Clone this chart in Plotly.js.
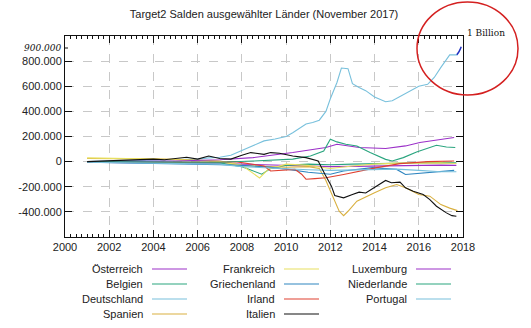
<!DOCTYPE html>
<html><head><meta charset="utf-8">
<script src="https://cdn.plot.ly/plotly-3.0.1.min.js"></script>
<style>html,body{margin:0;padding:0;background:#fff}#chart{width:531px;height:328px}</style>
</head><body><div id="chart"></div>
<script>
// ---- data (Mio. EUR) ----
const seriesNames = ['Österreich','Belgien','Deutschland','Spanien','Frankreich','Griechenland','Irland','Italien','Luxemburg','Niederlande','Portugal'];
const seriesColors = ['#9b30c8','#2aa57f','#78c0dc','#d9b040','#e8e060','#2f86c0','#e04030','#111111','#9b30c8','#2aa57f','#78c0dc'];

const oesterreichX = [2001,2003,2005,2007,2008,2009,2010,2011,2012,2013,2014,2015,2016,2017,2017.7];
const oesterreichY = [-5000,-8000,-10000,-15000,-20000,-25000,-30000,-35000,-40000,-38000,-35000,-33000,-30000,-28000,-30000];

const belgienX = [2001,2003,2005,2007,2008,2008.5,2008.9,2009.3,2010,2011,2012,2013,2014,2015,2016,2017,2017.7];
const belgienY = [-5000,-6000,-8000,-10000,-40000,-70000,-100000,-55000,-30000,-20000,-25000,-20000,-15000,-12000,-10000,-8000,-10000];

const deutschlandX = [2001,2002,2003,2004,2005,2006,2006.5,2007,2007.5,2008,2008.5,2009,2009.5,2010,2010.3,2010.6,2010.9,2011.2,2011.5,2011.8,2012,2012.3,2012.5,2012.8,2013,2013.3,2013.6,2014,2014.5,2014.8,2015.2,2015.6,2016,2016.4,2016.7,2017,2017.4,2017.75];
const deutschlandY = [0,5000,8000,10000,15000,20000,30000,35000,50000,90000,130000,165000,180000,200000,230000,265000,300000,312000,330000,400000,500000,630000,745000,740000,620000,590000,565000,515000,477000,485000,525000,565000,600000,615000,670000,750000,850000,850000];

const spanienX = [2001,2002,2003,2004,2005,2006,2007,2008,2009,2010,2011,2011.5,2011.8,2012.1,2012.4,2012.6,2012.8,2013.2,2013.5,2014,2014.5,2015,2015.4,2016,2016.5,2017,2017.4,2017.75];
const spanienY = [25000,25000,24000,22000,18000,12000,5000,-30000,-40000,-45000,-40000,-55000,-150000,-275000,-395000,-430000,-395000,-315000,-288000,-248000,-208000,-182000,-208000,-262000,-275000,-342000,-370000,-390000];

const frankreichX = [2001,2002,2003,2004,2005,2006,2007,2008,2008.5,2008.8,2009.2,2010,2011,2012,2013,2014,2015,2016,2017,2017.7];
const frankreichY = [30000,28000,25000,20000,15000,10000,0,-30000,-90000,-130000,-60000,-20000,-30000,-55000,-35000,-20000,-12000,-8000,-10000,-15000];

const griechenlandX = [2001,2003,2005,2007,2008,2009,2010,2011,2012,2012.6,2013.9,2015,2015.4,2016.4,2017.6];
const griechenlandY = [-5000,-10000,-18000,-25000,-30000,-40000,-60000,-85000,-100000,-75000,-48000,-62000,-102000,-88000,-70000];

const irlandX = [2001,2003,2005,2007,2007.7,2008.5,2009,2009.3,2010,2010.4,2010.7,2010.9,2011.3,2011.8,2012.6,2013.3,2014.1,2015.15,2016.4,2017.6];
const irlandY = [0,-2000,-5000,-5000,0,-20000,-35000,-75000,-65000,-62000,-100000,-140000,-135000,-128000,-102000,-75000,-48000,-16000,0,5000];

const italienX = [2001,2002,2003,2004,2004.5,2005,2005.5,2006,2006.5,2007,2007.5,2008,2008.4,2009,2009.3,2009.7,2010.3,2010.9,2011.45,2011.76,2012.05,2012.2,2012.6,2013,2013.3,2013.6,2014,2014.5,2014.76,2015.15,2015.4,2015.75,2016.2,2016.5,2016.8,2017.25,2017.5,2017.7];
const italienY = [0,5000,10000,20000,15000,25000,35000,20000,45000,25000,20000,50000,72000,58000,72000,67000,45000,32000,5000,-102000,-195000,-270000,-288000,-262000,-243000,-250000,-208000,-150000,-168000,-163000,-208000,-235000,-262000,-302000,-355000,-408000,-430000,-435000];

const luxemburgX = [2001,2003,2005,2007,2008.5,2010.3,2011.8,2012.3,2013.3,2014.5,2015.4,2016.05,2016.8,2017.6];
const luxemburgY = [0,2000,5000,15000,32000,72000,112000,138000,112000,104000,125000,152000,173000,192000];

const niederlandeX = [2001,2003,2005,2007,2008.5,2010.3,2011.1,2011.7,2012,2012.3,2012.7,2013.2,2013.8,2014.5,2014.8,2015.3,2015.9,2016.5,2016.8,2017.25,2017.65];
const niederlandeY = [0,-2000,-5000,-5000,5000,20000,45000,85000,178000,157000,138000,125000,72000,18000,5000,32000,77000,112000,130000,117000,112000];

const portugalX = [2001,2003,2005,2007,2008,2010,2011,2012,2013,2014,2015,2016,2017,2017.7];
const portugalY = [-5000,-10000,-15000,-20000,-40000,-60000,-65000,-70000,-65000,-60000,-60000,-70000,-80000,-80000];

const handStrokeX = [2017.72,2017.82,2017.92];
const handStrokeY = [850000,875000,915000];

const yTickVals = [-400000,-200000,0,200000,400000,600000,800000];
const yTickText = ['-400.000','-200.000','0','200.000','400.000','600.000','800.000'];

// ---- layout helpers ----
const W=531,H=328,L=65,R=463,T=36,B=237;
const px=x=>(x-L)/(R-L), py=y=>(B-y)/(B-T);

const seriesX=[oesterreichX,belgienX,deutschlandX,spanienX,frankreichX,griechenlandX,irlandX,italienX,luxemburgX,niederlandeX,portugalX];
const seriesY=[oesterreichY,belgienY,deutschlandY,spanienY,frankreichY,griechenlandY,irlandY,italienY,luxemburgY,niederlandeY,portugalY];

const drawOrder=[0,1,2,3,4,5,6,8,9,10,7];
const traces=drawOrder.map(i=>({type:'scatter',mode:'lines',x:seriesX[i],y:seriesY[i],name:seriesNames[i],
  line:{color:seriesColors[i],width:1.1},hoverinfo:'skip'}));
traces.push({type:'scatter',mode:'lines',x:handStrokeX,y:handStrokeY,line:{color:'#2030c0',width:1.5,shape:'spline'},hoverinfo:'skip'});

const font='"Liberation Sans", Arial, sans-serif';
const colTextRight=[145,277,409], rowY=[269,284,299,314];
const annotations=[], shapes=[];
seriesNames.forEach((n,i)=>{
  const c=Math.floor(i/4), r=i%4;
  annotations.push({xref:'paper',yref:'paper',x:px(colTextRight[c]),y:py(rowY[r]),text:n,showarrow:false,
    xanchor:'right',yanchor:'middle',font:{family:font,size:11,color:'#222'}});
  shapes.push({type:'line',xref:'paper',yref:'paper',x0:px(colTextRight[c]+7),x1:px(colTextRight[c]+42),
    y0:py(rowY[r]),y1:py(rowY[r]),line:{color:seriesColors[i],width:1.1}});
});
// handwritten notes
annotations.push({xref:'paper',yref:'paper',x:px(63),y:py(48),text:'<i>900.000</i>',showarrow:false,xanchor:'right',yanchor:'middle',
  font:{family:'"DejaVu Serif", serif',size:9,color:'#111'}});
annotations.push({xref:'paper',yref:'paper',x:px(465),y:py(33),text:'1 Billion',showarrow:false,xanchor:'left',yanchor:'middle',
  font:{family:'"DejaVu Serif", serif',size:9,color:'#111'}});
shapes.push({type:'line',xref:'paper',yref:'paper',x0:0,x1:px(68),y0:py(48),y1:py(48),line:{color:'#111',width:1}});
shapes.push({type:'circle',xref:'paper',yref:'paper',x0:px(417),x1:px(518),y0:py(95),y1:py(2),line:{color:'#d42020',width:1.5}});

const layout={
  width:W,height:H,margin:{l:L,r:W-R,t:T,b:H-B},paper_bgcolor:'#fff',plot_bgcolor:'#fff',showlegend:false,
  title:{text:'Target2 Salden ausgewählter Länder (November 2017)',x:px(264),xref:'paper',y:1-14/H,yanchor:'middle',
    font:{family:font,size:11,color:'#222'}},
  font:{family:font,size:11,color:'#222'},
  xaxis:{range:[2000,2018],dtick:2,ticks:'inside',ticklen:7,tickwidth:1,tickcolor:'#111',
    showline:true,linecolor:'#111',linewidth:1,mirror:'ticks',zeroline:false,
    showgrid:true,gridcolor:'#c8c8c8',griddash:'dash',gridwidth:1,
    minor:{dtick:0.25,ticks:'inside',ticklen:3,tickwidth:1,tickcolor:'#111',showgrid:false},
    tickfont:{family:font,size:11,color:'#222'}},
  yaxis:{range:[-600000,1000000],tickmode:'array',tickvals:yTickVals,ticktext:yTickText,ticks:'inside',ticklen:7,tickwidth:1,tickcolor:'#111',
    showline:true,linecolor:'#111',linewidth:1,mirror:'ticks',showgrid:true,gridcolor:'#c8c8c8',griddash:'dash',gridwidth:1,zeroline:false,
    tickfont:{family:font,size:11,color:'#222'}},
  annotations:annotations,shapes:shapes
};
Plotly.newPlot('chart',traces,layout,{staticPlot:true,displayModeBar:false});
</script></body></html>
